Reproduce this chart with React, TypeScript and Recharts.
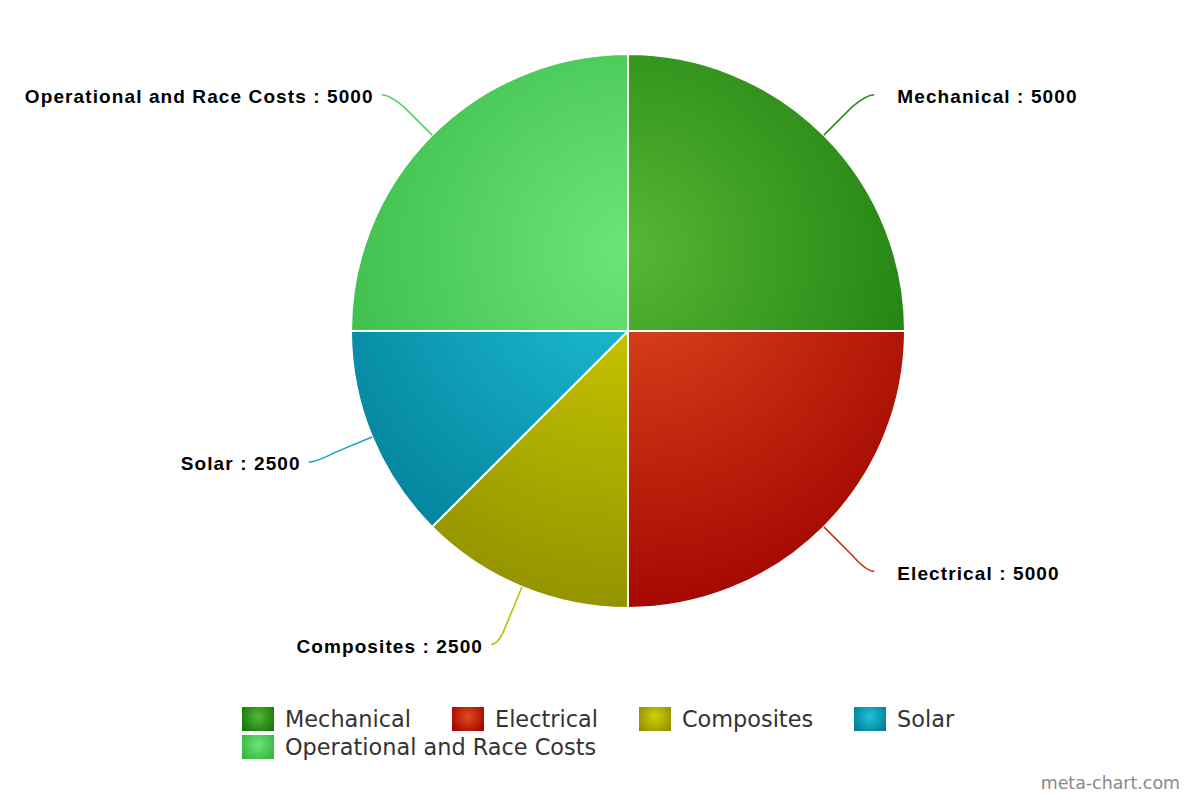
import { PieChart, Pie, Cell, Legend } from "recharts";

const categories = ["Mechanical", "Electrical", "Composites", "Solar", "Operational and Race Costs"];
const values = [5000, 5000, 2500, 2500, 5000];
// light centre / dark rim of each slice gradient, plus connector colour
const lightColors = ["#56b634", "#e04c1e", "#d0d000", "#20c2da", "#6ae676"];
const darkColors = ["#15760a", "#a00500", "#909000", "#007e96", "#34b442"];
const lineColors = ["#2a8c1a", "#c0300f", "#bcbc00", "#18a2c2", "#50d062"];

const data = categories.map((name, i) => ({ name, value: values[i] }));

const RADIAN = Math.PI / 180;

const renderLabel = (props: any) => {
  const { cx, cy, midAngle, outerRadius, index, name, value } = props;
  const cos = Math.cos(-midAngle * RADIAN);
  const sin = Math.sin(-midAngle * RADIAN);
  const side = cos >= 0 ? 1 : -1;
  const p0 = { x: cx + outerRadius * cos, y: cy + outerRadius * sin };
  const p1 = { x: cx + (outerRadius + 40) * cos, y: cy + (outerRadius + 40) * sin };
  const a = { x: cx + (outerRadius + 60) * cos, y: cy + (outerRadius + 60) * sin + 2 };
  const end = { x: a.x + side * 8, y: a.y };
  const gap = side > 0 ? 23 : 8;
  return (
    <g>
      <path
        d={`M${p0.x},${p0.y} L${p1.x},${p1.y} Q${a.x},${a.y} ${end.x},${end.y}`}
        stroke={lineColors[index]}
        strokeWidth={1.5}
        fill="none"
      />
      <text
        x={end.x + side * gap}
        y={end.y + 2}
        textAnchor={side > 0 ? "start" : "end"}
        dominantBaseline="central"
        fontFamily="'Liberation Sans', Arial, sans-serif"
        fontWeight="bold"
        fontSize={19}
        letterSpacing={1.1}
        fill="#000"
      >
        {`${name} : ${value}`}
      </text>
    </g>
  );
};

const LegendContent = () => (
  <div
    style={{
      display: "flex",
      flexWrap: "wrap",
      width: 760,
      fontFamily: "'DejaVu Sans', Verdana, sans-serif",
      fontSize: 22.4,
      color: "#333",
    }}
  >
    {categories.map((c, i) => (
      <div key={c} style={{ display: "flex", alignItems: "center", height: 28, marginRight: 41 }}>
        <div
          style={{
            width: 32,
            height: 24,
            marginRight: 11,
            background: `radial-gradient(circle at 50% 40%, ${lightColors[i]} 0%, ${darkColors[i]} 90%)`,
          }}
        />
        <span>{c}</span>
      </div>
    ))}
  </div>
);

export default function App() {
  return (
    <div style={{ position: "absolute", left: 0, top: 0, width: 1200, height: 800, background: "#fff" }}>
      <PieChart width={1200} height={800} margin={{ top: 0, right: 0, bottom: 0, left: 0 }}>
        <defs>
          {categories.map((c, i) => (
            <radialGradient key={c} id={`slice-${i}`} gradientUnits="userSpaceOnUse" cx={628} cy={250} r={380}>
              <stop offset="0%" stopColor={lightColors[i]} />
              <stop offset="100%" stopColor={darkColors[i]} />
            </radialGradient>
          ))}
        </defs>
        <Pie
          data={data}
          dataKey="value"
          nameKey="name"
          cx={628}
          cy={331}
          outerRadius={277}
          startAngle={90}
          endAngle={-270}
          stroke="#fff"
          strokeWidth={2}
          label={renderLabel}
          labelLine={false}
          isAnimationActive={false}
        >
          {data.map((d, i) => (
            <Cell key={d.name} fill={`url(#slice-${i})`} />
          ))}
        </Pie>
        <Legend content={<LegendContent />} wrapperStyle={{ left: 242, top: 705, width: 760 }} />
      </PieChart>
      <div
        style={{
          position: "absolute",
          right: 20,
          top: 773,
          fontFamily: "'DejaVu Sans', Verdana, sans-serif",
          fontSize: 17.4,
          color: "#8a8a8a",
        }}
      >
        meta-chart.com
      </div>
    </div>
  );
}
